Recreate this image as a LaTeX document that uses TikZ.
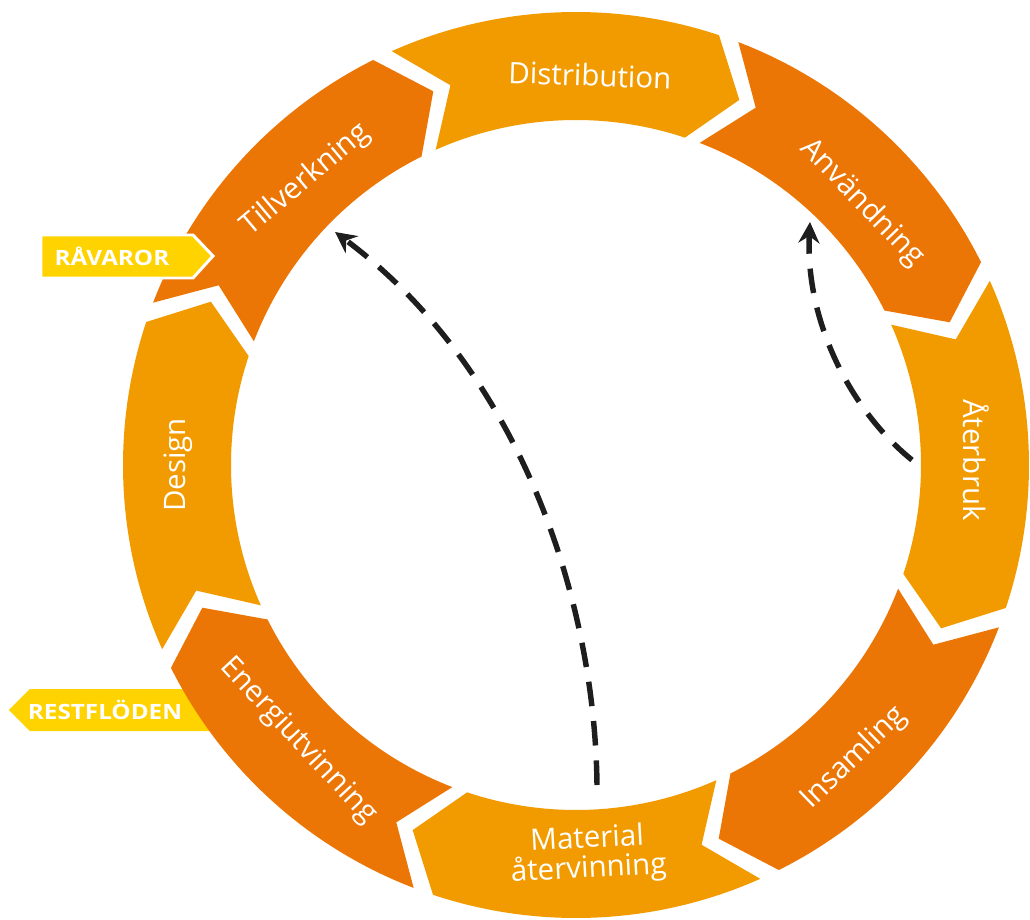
\documentclass[tikz,border=0pt]{standalone}
\usepackage{fontspec}
\setmainfont{Open Sans}
\usetikzlibrary{arrows.meta}
\definecolor{lightorange}{RGB}{242,155,0}
\definecolor{darkorange}{RGB}{236,118,5}
\definecolor{tagyellow}{RGB}{255,211,0}
\definecolor{arrowblack}{RGB}{30,30,30}
\tikzstyle{ring_label} = [text=white, font=\fontsize{16.8}{17}\selectfont, align=center]
\tikzstyle{tag_label} = [text=white, font=\bfseries\fontsize{12}{12}\selectfont,
    xscale=1.15, transform shape]
\tikzstyle{tag} = [fill=tagyellow]
\tikzstyle{tag_front} = [fill=tagyellow, draw=white, line width=1.7pt]
\tikzstyle{loop_back} = [draw=arrowblack, line width=3.1pt, dash pattern=on 14pt off 8.5pt,
    -{Stealth[length=12pt,width=12pt,inset=4pt]}]
% ring sizes
\def\Rout{453}
\def\Rin{345}
\def\Rmid{400}
\def\segspan{42.4}
\def\segtip{5.7}
\newcommand{\ringpart}[2]{%
  \fill[#2] ({#1}:\Rout) arc[start angle={#1}, end angle={#1-\segspan}, radius=\Rout]
    -- ({#1-\segspan-\segtip}:\Rmid) -- ({#1-\segspan}:\Rin)
    arc[start angle={#1-\segspan}, end angle={#1}, radius=\Rin]
    -- ({#1-\segtip}:\Rmid) -- cycle;}
\begin{document}
\begin{tikzpicture}[x=0.02cm, y=0.02cm]
    \useasboundingbox (-576,-454) rectangle (454,465);
    % Tag behind the ring
    \path [tag] (-567,-245) -- (-546,-224) -- (-346,-224) -- (-346,-266) -- (-546,-266) -- cycle;
    \node [tag_label] (restfloden) at (-471,-245) {RESTFLÖDEN};
    % Ring
    \foreach \s/\c in {114/lightorange, 69/darkorange, 24/lightorange, -21/darkorange,
        -66/lightorange, -111/darkorange, -156/lightorange, -201/darkorange}
        {\ringpart{\s}{\c}}
    % Place nodes
    \node [ring_label, rotate=-2] (distribution) at (14,390) {Distribution};
    \node [ring_label, rotate=-46] (anvandning) at (286,262) {Användning};
    \node [ring_label, rotate=-90] (aterbruk) at (400,5) {Återbruk};
    \node [ring_label, rotate=44] (insamling) at (278,-293) {Insamling};
    \node [ring_label, rotate=3] (material) at (12,-390) {Material\\återvinning};
    \node [ring_label, rotate=-47] (energi) at (-278,-276) {Energiutvinning};
    \node [ring_label, rotate=90] (design) at (-398,0) {Design};
    \node [ring_label, rotate=40] (tillverkning) at (-270,285) {Tillverkning};
    % Tag in front of the ring
    \path [tag_front] (-535,230) -- (-383,230) -- (-363,209) -- (-383,187) -- (-535,187) -- cycle;
    \node [tag_label] (ravaror) at (-464,209) {RÅVAROR};
    % Draw edges
    \coordinate (long_start) at (21,-320);
    \coordinate (long_end) at (-241,233);
    \coordinate (short_start) at (336,5);
    \coordinate (short_end) at (234,243);
    \path [loop_back] (long_start) .. controls (19,-135) and (-56,95) .. (long_end);
    \path [loop_back] (short_start) .. controls (274,55) and (229,145) .. (short_end);
\end{tikzpicture}
\end{document}
